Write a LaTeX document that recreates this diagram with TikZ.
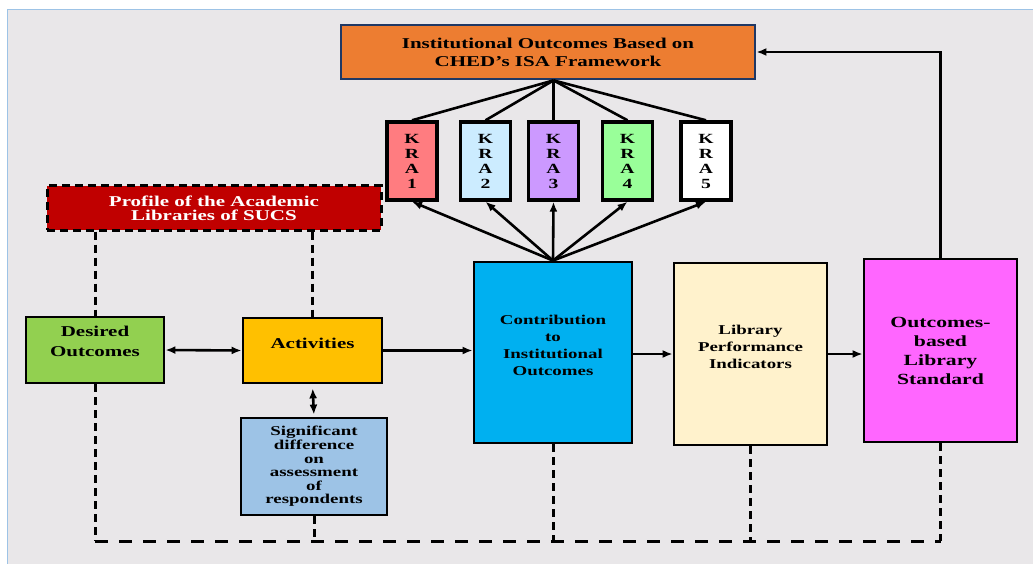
\documentclass[tikz,border=0pt]{standalone}
\usepackage{fontspec}
\usetikzlibrary{arrows.meta,calc}
\usepackage{xcolor}
\newfontfamily\diagfont{Liberation Serif}[FakeStretch=1.4]
\newcommand\liftbox[2]{\raisebox{#1}[\height][\depth]{\begin{tabular}{@{}c@{}}#2\end{tabular}}}
\definecolor{bgpage}{HTML}{E9E7E9}
\definecolor{bgedge}{HTML}{9DC3E6}
\definecolor{isofill}{HTML}{ED7D31}
\definecolor{isoedge}{HTML}{203864}
\definecolor{kraone}{HTML}{FF7C80}
\definecolor{kratwo}{HTML}{CCECFF}
\definecolor{krathree}{HTML}{CC99FF}
\definecolor{krafour}{HTML}{99FF99}
\definecolor{proffill}{HTML}{C00000}
\definecolor{desfill}{HTML}{92D050}
\definecolor{actfill}{HTML}{FFC000}
\definecolor{sigfill}{HTML}{9DC3E6}
\definecolor{confill}{HTML}{00B0F0}
\definecolor{lpifill}{HTML}{FFF2CC}
\definecolor{osfill}{HTML}{FF66FF}

\begin{document}
\begin{tikzpicture}[x=1pt,y=-1pt,
    box/.style={draw, rectangle, line width=2.8pt, align=center, inner sep=0pt,
      font=\diagfont\bfseries},
    kra/.style={box, line width=3.4pt, minimum width=50pt, minimum height=78pt,
      font=\diagfont\bfseries\fontsize{14}{15}\selectfont},
    link/.style={line width=2.6pt, -{Latex[length=10pt,width=8pt]}},
    twoway/.style={line width=2.6pt, {Latex[length=10pt,width=8pt]}-{Latex[length=10pt,width=8pt]}},
    dashline/.style={line width=3pt, dash pattern=on 8pt off 5pt},
    longdash/.style={line width=3pt, dash pattern=on 13pt off 11pt}]
    \useasboundingbox (0,0) rectangle (1033,564);
    % page background
    \fill[bgpage] (7,10) rectangle (1033,564);
    \draw[bgedge, line width=1pt] (7,564) -- (7,10) -- (1033,10);

    % top
    \node (iso) [box, fill=isofill, draw=isoedge, minimum width=414pt, minimum height=54pt,
      font=\diagfont\bfseries\fontsize{15}{18}\selectfont] at (548,52)
      {Institutional Outcomes Based on\\CHED’s ISA Framework};
    \node (kra1) [kra, fill=kraone] at (412,161) {K\\R\\A\\1};
    \node (kra2) [kra, fill=kratwo] at (485.5,161) {K\\R\\A\\2};
    \node (kra3) [kra, fill=krathree] at (553.5,161) {K\\R\\A\\3};
    \node (kra4) [kra, fill=krafour] at (627.5,161) {K\\R\\A\\4};
    \node (kra5) [kra, fill=white] at (706,161) {K\\R\\A\\5};

    % left part
    \node (prof) [box, fill=proffill, dashline, text=white, minimum width=334pt, minimum height=44pt,
      font=\diagfont\bfseries\fontsize{15}{14}\selectfont] at (214,208)
      {Profile of the Academic\\Libraries of SUCS};
    \node (des) [box, fill=desfill, minimum width=138pt, minimum height=66pt,
      font=\diagfont\bfseries\fontsize{15}{20}\selectfont] at (95,350)
      {\liftbox{8pt}{Desired\\Outcomes}};
    \node (act) [box, fill=actfill, minimum width=139pt, minimum height=65pt,
      font=\diagfont\bfseries\fontsize{15}{18}\selectfont] at (312.5,350.5)
      {\liftbox{6pt}{Activities}};
    \node (sig) [box, fill=sigfill, minimum width=146pt, minimum height=97pt,
      font=\diagfont\bfseries\fontsize{13.5}{13.6}\selectfont] at (314,466.5)
      {Significant\\difference\\on\\assessment\\of\\respondents};

    % right part
    \node (con) [box, fill=confill, minimum width=158pt, minimum height=181pt,
      font=\diagfont\bfseries\fontsize{13.5}{17}\selectfont] at (553,352.5)
      {\liftbox{6pt}{Contribution\\to\\Institutional\\Outcomes}};
    \node (lpi) [box, fill=lpifill, minimum width=153pt, minimum height=182pt,
      font=\diagfont\bfseries\fontsize{13.5}{17}\selectfont] at (750.5,354)
      {\liftbox{6pt}{Library\\Performance\\Indicators}};
    \node (os) [box, fill=osfill, minimum width=153pt, minimum height=183pt,
      font=\diagfont\bfseries\fontsize{15.5}{19}\selectfont] at (940.5,350.5)
      {Outcomes-\\based\\Library\\Standard};

    \coordinate (hub) at (iso.south -| kra3.north);
    \coordinate (base) at (0,541);

    % KRA links
    \foreach \k in {kra1,kra2,kra3,kra4,kra5} {
      \draw[line width=2.6pt] (hub) -- (\k.north);
      \draw[link] (con.north) -- (\k.south);
    }

    % flow
    \draw[link] (os.north) |- (iso.east);
    \draw[twoway] (des.east) -- (act.west);
    \draw[twoway, shorten <=4pt, shorten >=2pt] (act.south) -- (sig.north);
    \draw[link] (act.east) -- (act.east -| con.west);
    \draw[link] (lpi.west -| con.east) -- (lpi.west);
    \draw[link] (lpi.east) -- (lpi.east -| os.west);

    % dashed links
    \draw[dashline] (prof.south -| des.north) -- (des.north);
    \draw[dashline] (prof.south -| act.north) -- (act.north);
    \draw[dashline] (des.south) -- (des.south |- base);
    \draw[longdash] (des.south |- base) -- (os.south |- base);
    \foreach \b in {sig,con,lpi,os}
      \draw[dashline] (\b.south) -- (\b.south |- base);
\end{tikzpicture}
\end{document}
